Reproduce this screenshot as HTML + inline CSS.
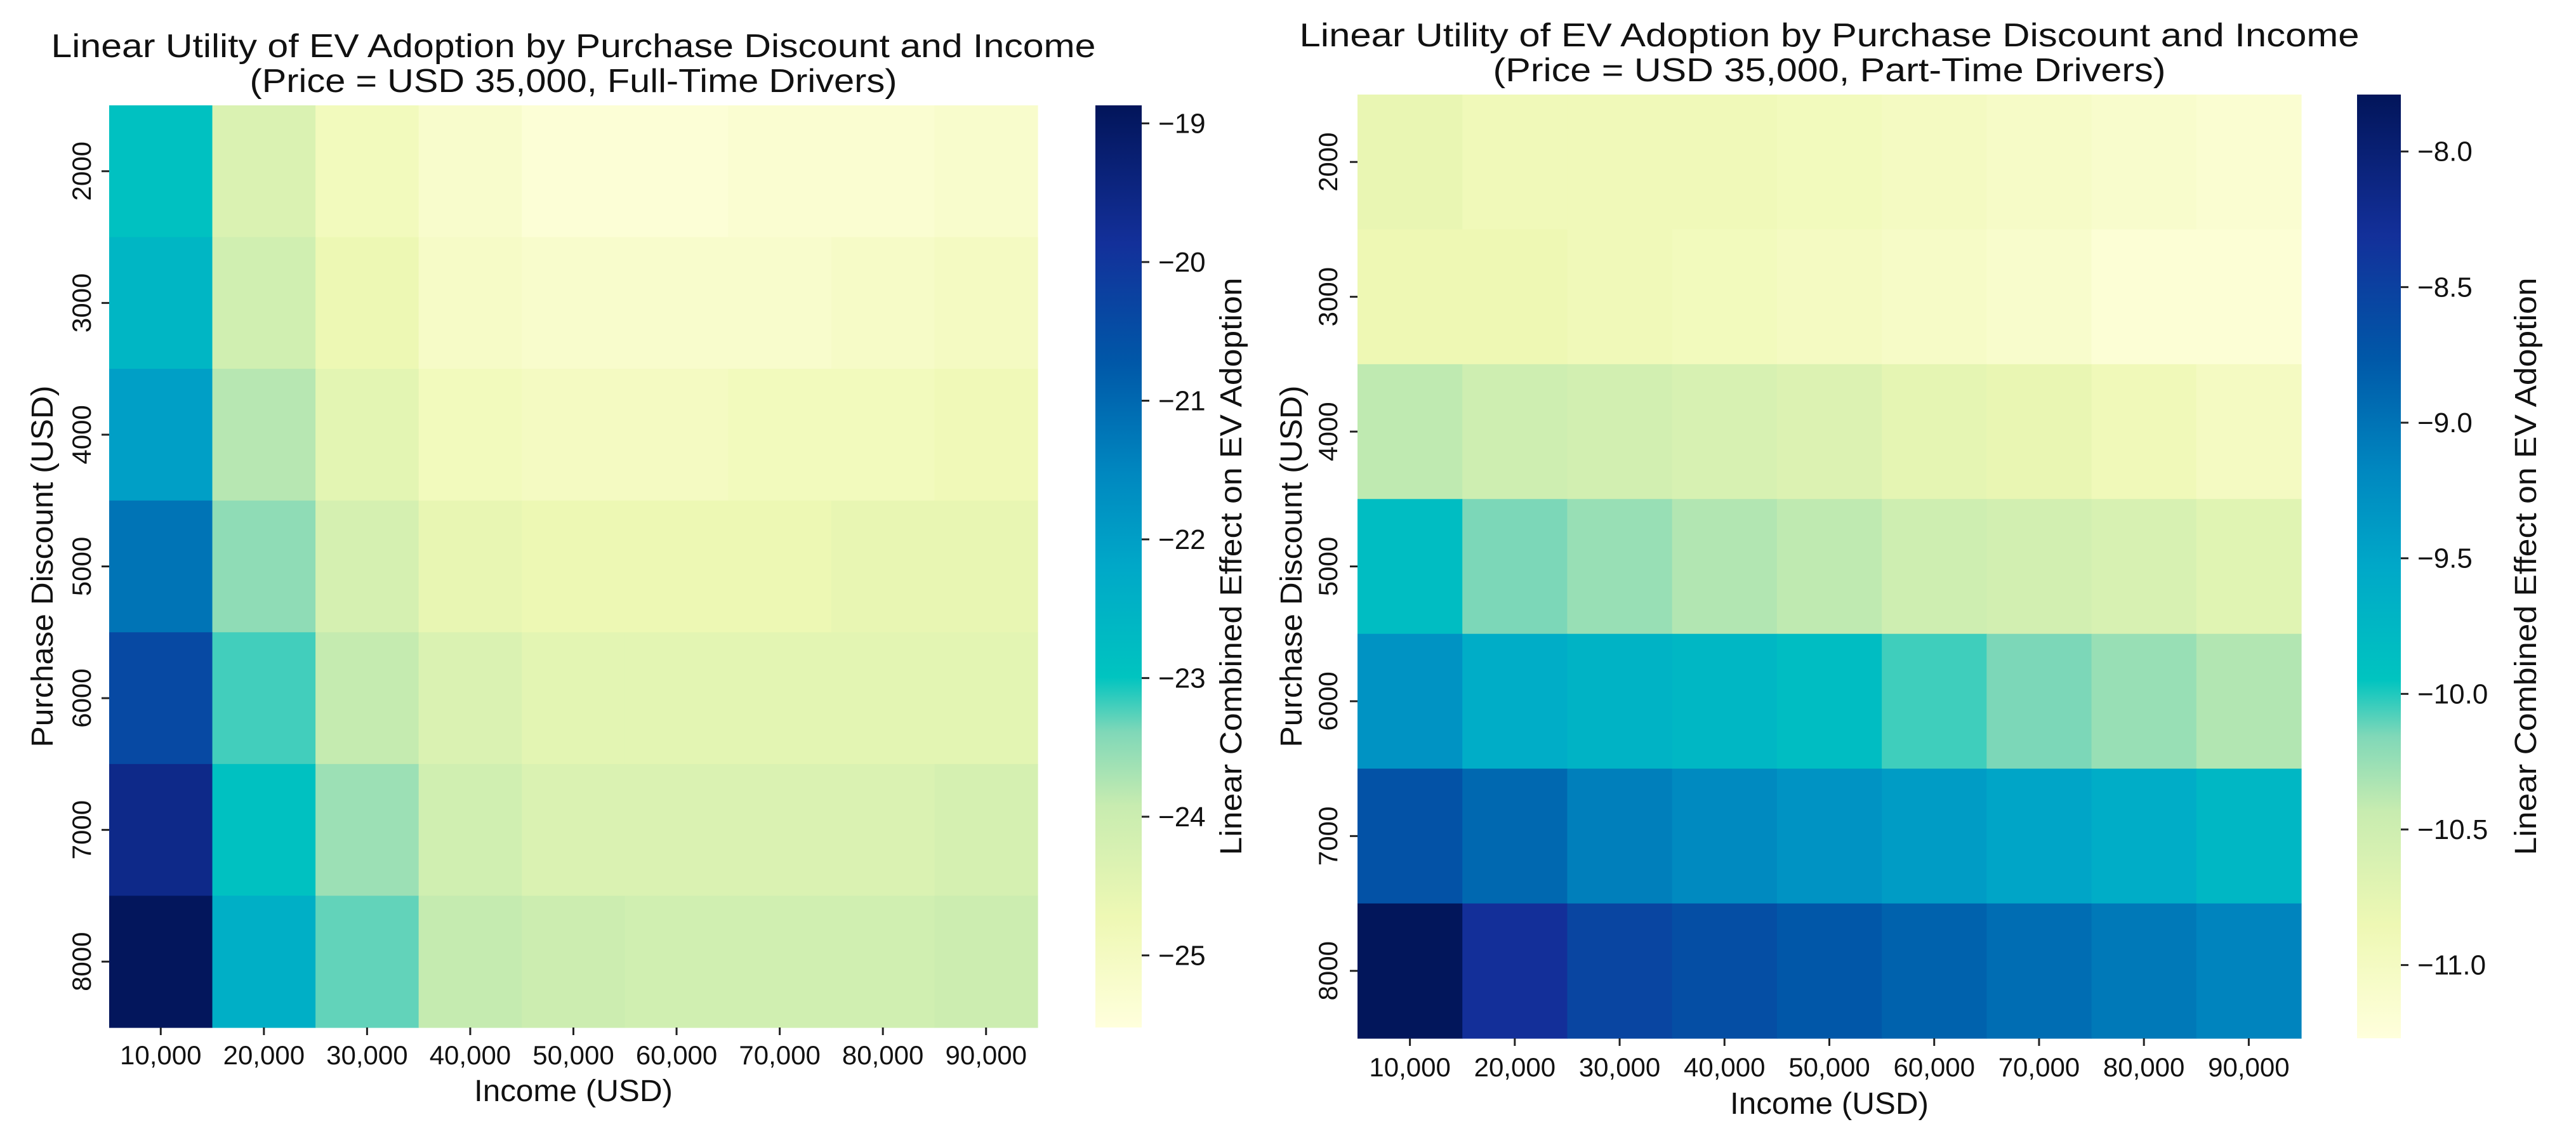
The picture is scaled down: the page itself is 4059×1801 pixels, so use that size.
<!DOCTYPE html>
<html><head><meta charset="utf-8"><style>
html,body{margin:0;padding:0;background:#fff;}
svg{display:block;font-family:"Liberation Sans",sans-serif;}
</style></head><body>
<svg id="fig" width="4059" height="1801" viewBox="0 0 4059 1801" xmlns="http://www.w3.org/2000/svg">
<defs>
<linearGradient id="cbgrad" x1="0" y1="1" x2="0" y2="0"></linearGradient>
</defs>
</svg>
<script>
const incomeLabels = ["10,000","20,000","30,000","40,000","50,000","60,000","70,000","80,000","90,000"];
const discountLabels = ["2000","3000","4000","5000","6000","7000","8000"];
const fullTimeValues = [
 [-22.9,-24.3,-24.9,-25.2,-25.4,-25.4,-25.3,-25.3,-25.2],
 [-22.6,-24.1,-24.7,-25.1,-25.2,-25.2,-25.2,-25.1,-25.0],
 [-22.0,-23.8,-24.5,-24.9,-25.0,-25.0,-24.9,-24.9,-24.8],
 [-21.2,-23.5,-24.2,-24.6,-24.7,-24.7,-24.7,-24.6,-24.6],
 [-20.4,-23.2,-23.9,-24.3,-24.5,-24.5,-24.5,-24.5,-24.5],
 [-19.6,-22.9,-23.6,-24.1,-24.3,-24.3,-24.3,-24.3,-24.2],
 [-18.9,-22.4,-23.3,-23.9,-24.0,-24.1,-24.1,-24.1,-24.0]
];
const partTimeValues = [
 [-10.8,-10.9,-10.9,-10.9,-10.95,-11.0,-11.05,-11.1,-11.15],
 [-10.85,-10.85,-10.9,-10.95,-11.0,-11.05,-11.1,-11.2,-11.2],
 [-10.4,-10.5,-10.55,-10.6,-10.65,-10.75,-10.8,-10.9,-11.0],
 [-9.85,-10.15,-10.25,-10.35,-10.4,-10.5,-10.55,-10.6,-10.7],
 [-9.3,-9.6,-9.7,-9.75,-9.85,-10.05,-10.15,-10.25,-10.35],
 [-8.7,-8.9,-9.1,-9.2,-9.3,-9.4,-9.5,-9.6,-9.75],
 [-7.8,-8.3,-8.55,-8.65,-8.75,-8.85,-8.95,-9.05,-9.15]
];
const fullTimeTicks = [-19,-20,-21,-22,-23,-24,-25];
const partTimeTicks = [-8.0,-8.5,-9.0,-9.5,-10.0,-10.5,-11.0];

const NS = "http://www.w3.org/2000/svg";
const svg = document.getElementById("fig");
const stops = [[0,"#ffffdc"],[0.12,"#eef8b4"],[0.24,"#c8ecb0"],[0.32,"#80d8b8"],[0.38,"#00c4c0"],[0.5,"#00a8c8"],[0.6,"#0088c0"],[0.72,"#0058a8"],[0.85,"#13309a"],[1,"#02155a"]];
function hex(h){return [parseInt(h.substr(1,2),16),parseInt(h.substr(3,2),16),parseInt(h.substr(5,2),16)];}
function cmap(t){
  t=Math.max(0,Math.min(1,t));
  for(let i=1;i<stops.length;i++){
    if(t<=stops[i][0]){
      const a=stops[i-1],b=stops[i];const f=(t-a[0])/(b[0]-a[0]);
      const ca=hex(a[1]),cb=hex(b[1]);
      return "rgb("+ca.map((v,k)=>Math.round(v+(cb[k]-v)*f)).join(",")+")";
    }
  }
  return stops[stops.length-1][1];
}
function el(tag,attrs,parent){const e=document.createElementNS(NS,tag);for(const k in attrs)e.setAttribute(k,attrs[k]);(parent||svg).appendChild(e);return e;}
function txt(s,attrs,parent){const e=el("text",attrs,parent);e.textContent=s;return e;}

const grad=document.getElementById("cbgrad");
stops.forEach(s=>el("stop",{offset:s[0],"stop-color":s[1]},grad));

function drawPanel(cfg){
  const g=el("g",{});
  
  
  const {x0,y0,x1,y1,vmin,vmax,values,ticks}=cfg;
  const cw=(x1-x0)/incomeLabels.length, rh=(y1-y0)/discountLabels.length;
  const xs=i=>x0+i*cw, ys=j=>y0+j*rh;
  const norm=v=>(v-vmin)/(vmax-vmin);
  values.forEach((row,j)=>row.forEach((v,i)=>{
    const r=el("rect",{x:xs(i),y:ys(j),width:cw+0.6,height:rh+0.6,fill:cmap(norm(v))},g);
    
    
  }));
  incomeLabels.forEach((l,i)=>{
    const cx=xs(i)+cw/2;
    el("line",{x1:cx,y1:y1,x2:cx,y2:y1+12,stroke:"#222","stroke-width":3},g);
    const t=txt(l,{x:cx,y:cfg.xtickY,"font-size":42,"text-anchor":"middle",fill:"#111"},g);
    
    
  });
  discountLabels.forEach((l,j)=>{
    const cy=ys(j)+rh/2;
    el("line",{x1:x0-12,y1:cy,x2:x0,y2:cy,stroke:"#222","stroke-width":3},g);
    const t=txt(l,{x:0,y:0,"font-size":42,"text-anchor":"middle",fill:"#111",transform:`translate(${cfg.ytickX},${cy}) rotate(-90)`},g);
    
    
  });
  const t1=txt("Linear Utility of EV Adoption by Purchase Discount and Income",{x:(x0+x1)/2,y:cfg.titleY,"font-size":52,"text-anchor":"middle",fill:"#111",textLength:cfg.titleLen,lengthAdjust:"spacingAndGlyphs"},g);
  
  
  const t2=txt(cfg.subtitle,{x:(x0+x1)/2,y:cfg.titleY+55,"font-size":52,"text-anchor":"middle",fill:"#111",textLength:cfg.subLen,lengthAdjust:"spacingAndGlyphs"},g);
  
  
  const xl=txt("Income (USD)",{x:(x0+x1)/2,y:cfg.xlabelY,"font-size":48,"text-anchor":"middle",fill:"#111",textLength:313,lengthAdjust:"spacingAndGlyphs"},g);
  
  
  const yl=txt("Purchase Discount (USD)",{x:0,y:0,"font-size":48,"text-anchor":"middle",fill:"#111",textLength:570,lengthAdjust:"spacingAndGlyphs",transform:`translate(${cfg.ylabelX},${(y0+y1)/2}) rotate(-90)`},g);
  
  
  const cb=el("rect",{x:cfg.cbx0,y:y0,width:cfg.cbx1-cfg.cbx0,height:y1-y0,fill:"url(#cbgrad)"},g);
  
  
  const cy=v=>y1-(v-vmin)/(vmax-vmin)*(y1-y0);
  ticks.forEach(v=>{
    const yy=cy(v);
    el("line",{x1:cfg.cbx1,y1:yy,x2:cfg.cbx1+12,y2:yy,stroke:"#222","stroke-width":3},g);
    const s=(cfg.decimals?Math.abs(v).toFixed(1):Math.abs(v));
    const t=txt("\u2212"+s,{x:cfg.cbx1+26,y:yy+15,"font-size":44,fill:"#111"},g);
    
    
  });
  const cl=txt("Linear Combined Effect on EV Adoption",{x:0,y:0,"font-size":48,"text-anchor":"middle",fill:"#111",textLength:910,lengthAdjust:"spacingAndGlyphs",transform:`translate(${cfg.cblabelX},${(y0+y1)/2}) rotate(-90)`},g);
  
  
}

drawPanel({name:"full-time-heatmap",x0:172,y0:166,x1:1635,y1:1619,vmin:-25.52,vmax:-18.87,values:fullTimeValues,ticks:fullTimeTicks,
  xtickY:1677,ytickX:143,ylabelX:83,titleY:90,titleLen:1646,subtitle:"(Price = USD 35,000, Full-Time Drivers)",subLen:1020,xlabelY:1735,
  cbx0:1726,cbx1:1799,cblabelX:1956,decimals:false});
drawPanel({name:"part-time-heatmap",x0:2139,y0:149,x1:3626,y1:1636,vmin:-11.27,vmax:-7.79,values:partTimeValues,ticks:partTimeTicks,
  xtickY:1696,ytickX:2107,ylabelX:2051,titleY:73,titleLen:1670,subtitle:"(Price = USD 35,000, Part-Time Drivers)",subLen:1060,xlabelY:1755,
  cbx0:3714,cbx1:3783,cblabelX:3996,decimals:true});
</script>
</body></html>
